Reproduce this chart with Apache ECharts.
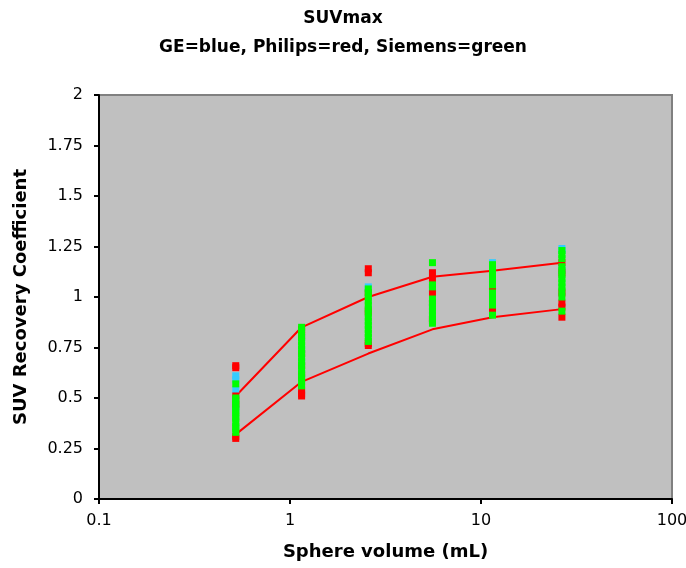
<!DOCTYPE html>
<html>
<head>
<meta charset="utf-8">
<script src="https://cdn.jsdelivr.net/npm/echarts@6/dist/echarts.min.js"></script>
<style>
  html, body { margin: 0; padding: 0; background: #fff; }
  #chart { width: 686px; height: 568px; }
</style>
</head>
<body>
<div id="chart"></div>
<script>
// sphere volumes (mL), one cluster of measurements per sphere
const volumes = [0.52, 1.15, 2.57, 5.57, 11.49, 26.52];

// recovery coefficients per sphere, per vendor
const geValues = [
  [0.61, 0.59, 0.54, 0.45],
  [0.80, 0.74, 0.68, 0.62],
  [1.05, 1.04],
  [1.12, 1.04, 0.95],
  [1.17, 1.16, 1.02],
  [1.24, 1.23, 1.14]
];
const philipsValues = [
  [0.65, 0.66, 0.51, 0.47, 0.30, 0.31],
  [0.84, 0.81, 0.72, 0.66, 0.61, 0.54, 0.52, 0.51],
  [1.14, 1.12, 1.02, 0.93, 0.77, 0.76],
  [1.12, 1.09, 1.02, 0.97, 0.89, 0.88],
  [1.09, 1.04, 0.95, 0.93, 0.92],
  [1.17, 1.12, 1.02, 0.97, 0.95, 0.90]
];
const siemensValues = [
  [0.57, 0.50, 0.49, 0.47, 0.46, 0.44, 0.43, 0.41, 0.40, 0.38, 0.36, 0.35, 0.33],
  [0.85, 0.83, 0.80, 0.78, 0.76, 0.74, 0.72, 0.70, 0.68, 0.66, 0.64, 0.62, 0.60, 0.58, 0.56],
  [1.04, 1.02, 1.00, 0.98, 0.96, 0.94, 0.92, 0.90, 0.88, 0.86, 0.84, 0.82, 0.80, 0.78],
  [1.17, 1.06, 1.05, 0.99, 0.97, 0.95, 0.93, 0.91, 0.89, 0.87],
  [1.16, 1.14, 1.12, 1.10, 1.08, 1.06, 1.02, 1.00, 0.98, 0.96, 0.91],
  [1.23, 1.21, 1.19, 1.15, 1.13, 1.11, 1.09, 1.07, 1.05, 1.03, 1.00, 0.93]
];

// envelope lines
const upperLine = [0.51, 0.85, 1.00, 1.10, 1.13, 1.17];
const lowerLine = [0.32, 0.58, 0.72, 0.84, 0.90, 0.94];

const yTicks = [0, 0.25, 0.5, 0.75, 1, 1.25, 1.5, 1.75, 2];

function toPoints(groups) {
  const pts = [];
  groups.forEach((vals, i) => {
    vals.forEach(v => pts.push([volumes[i], v]));
  });
  return pts;
}

function toLine(vals) {
  return vals.map((v, i) => [volumes[i], v]);
}

const font = 'DejaVu Sans, Verdana, sans-serif';

const chart = echarts.init(document.getElementById('chart'), null, { renderer: 'canvas' });

const scatterBase = {
  type: 'scatter',
  symbol: 'rect',
  symbolSize: 7
};

chart.setOption({
  animation: false,
  backgroundColor: '#ffffff',
  title: {
    text: 'SUVmax\nGE=blue, Philips=red, Siemens=green',
    left: 'center',
    top: 4,
    padding: 0,
    textStyle: {
      fontFamily: font,
      fontSize: 17,
      fontWeight: 'bold',
      color: '#000',
      lineHeight: 29
    }
  },
  grid: {
    left: 99,
    right: 14,
    top: 95,
    bottom: 69,
    containLabel: false,
    outerBoundsMode: 'none',
    show: true,
    backgroundColor: '#c0c0c0',
    borderColor: '#808080',
    borderWidth: 2
  },
  xAxis: {
    type: 'log',
    logBase: 10,
    min: 0.1,
    max: 100,
    name: 'Sphere volume (mL)',
    nameLocation: 'middle',
    nameGap: 44,
    nameTextStyle: { fontFamily: font, fontSize: 18, fontWeight: 'bold', color: '#000' },
    axisLine: { show: true, lineStyle: { color: '#000', width: 2 } },
    axisTick: { show: true, length: 5, lineStyle: { color: '#000', width: 2 } },
    axisLabel: {
      fontFamily: font, fontSize: 16, color: '#000', margin: 14,
      formatter: v => String(v)
    },
    splitLine: { show: false },
    minorTick: { show: false }
  },
  yAxis: {
    type: 'value',
    min: yTicks[0],
    max: yTicks[yTicks.length - 1],
    interval: 0.25,
    name: 'SUV Recovery Coefficient',
    nameLocation: 'middle',
    nameGap: 69,
    nameTextStyle: { fontFamily: font, fontSize: 18, fontWeight: 'bold', color: '#000' },
    axisLine: { show: true, lineStyle: { color: '#000', width: 2 } },
    axisTick: { show: true, length: 5, lineStyle: { color: '#000', width: 2 } },
    axisLabel: { fontFamily: font, fontSize: 16, color: '#000', margin: 16 },
    splitLine: { show: false }
  },
  series: [
    {
      type: 'line',
      data: toLine(upperLine),
      showSymbol: false,
      symbol: 'none',
      lineStyle: { color: '#ff0000', width: 2 },
      z: 1
    },
    {
      type: 'line',
      data: toLine(lowerLine),
      showSymbol: false,
      symbol: 'none',
      lineStyle: { color: '#ff0000', width: 2 },
      z: 1
    },
    Object.assign({}, scatterBase, {
      name: 'GE',
      data: toPoints(geValues),
      itemStyle: { color: '#33ccff', opacity: 1 },
      z: 2
    }),
    Object.assign({}, scatterBase, {
      name: 'Philips',
      data: toPoints(philipsValues),
      itemStyle: { color: '#ff0000', opacity: 1 },
      z: 3
    }),
    Object.assign({}, scatterBase, {
      name: 'Siemens',
      data: toPoints(siemensValues),
      itemStyle: { color: '#00ff00', opacity: 1 },
      z: 4
    })
  ]
});
</script>
</body>
</html>
